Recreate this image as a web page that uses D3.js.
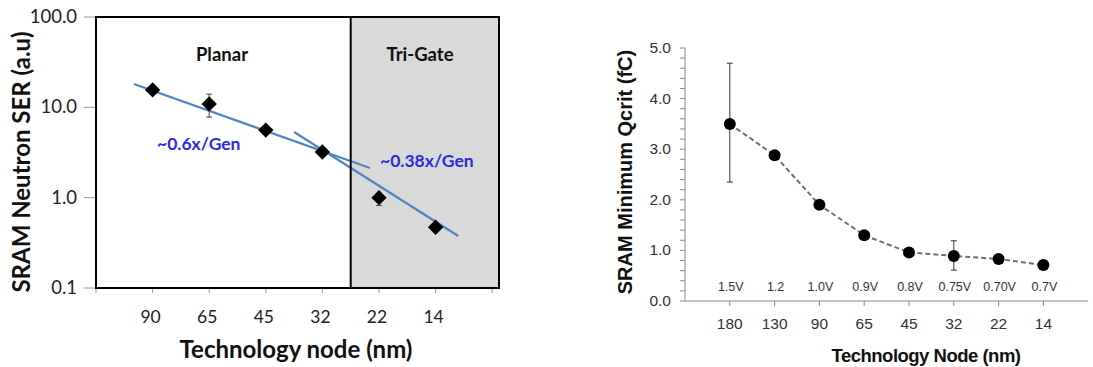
<!DOCTYPE html>
<html>
<head>
<meta charset="utf-8">
<script src="https://cdn.jsdelivr.net/npm/d3@7"></script>
<style>
  body { margin: 0; background: #fff; }
  svg { display: block; }
</style>
</head>
<body>
<div id="chart"></div>
<script>
// left chart: neutron SER vs node (log scale)
const serNodes = ['90', '65', '45', '32', '22', '14'];
const serValues = [15.6, 10.9, 5.6, 3.2, 1.0, 0.47];
const serErrHigh = [null, 14.0, null, null, null, null];
const serErrLow = [null, 7.8, null, null, 0.82, null];
const serTicks = [0.1, 1, 10, 100];
// fit lines, x given in slot index (90 = 1)
const planarFit = [[0.67, 18.1], [4.84, 2.13]];
const trigateFit = [[3.5, 5.33], [6.4, 0.376]];

// right chart: Qcrit vs node
const qNodes = ['180', '130', '90', '65', '45', '32', '22', '14'];
const qValues = [3.5, 2.88, 1.9, 1.3, 0.96, 0.89, 0.83, 0.71];
const qErrHigh = [4.7, null, null, null, null, 1.19, null, null];
const qErrLow = [2.35, null, null, null, null, 0.61, null, null];
const qVoltages = ['1.5V', '1.2', '1.0V', '0.9V', '0.8V', '0.75V', '0.70V', '0.7V'];
const qTicks = [0, 1, 2, 3, 4, 5];

const width = 1093, height = 367;
const svg = d3.select('#chart').append('svg')
  .attr('width', width).attr('height', height);

// ---------- left chart ----------
const L = { left: 96, right: 499, top: 17, bottom: 288 };
const calibri = 'Lato, "Open Sans", sans-serif';

const xL = d3.scaleLinear().domain([0, 7.1]).range([L.left, L.left + 7.1 * 56.6]);
const yL = d3.scaleLog().domain([0.1, 100]).range([L.bottom, L.top]);
const divider = xL(4.5);

const left = svg.append('g');
left.append('rect')
  .attr('x', divider).attr('y', L.top)
  .attr('width', L.right - divider).attr('height', L.bottom - L.top)
  .attr('fill', '#d9d9d9');

// y tick marks + labels
left.append('g').selectAll('line').data(serTicks).join('line')
  .attr('x1', L.left - 12).attr('x2', L.left)
  .attr('y1', d => yL(d)).attr('y2', d => yL(d))
  .attr('stroke', '#999').attr('stroke-width', 1);
left.append('g').selectAll('text').data(serTicks).join('text')
  .attr('x', L.left - 19).attr('y', d => yL(d) + 6)
  .attr('text-anchor', 'end')
  .attr('font-family', calibri).attr('font-size', 18.5).attr('fill', '#222')
  .text(d => d3.format('.1f')(d));

// x ticks below the box
left.append('g').selectAll('line').data(d3.range(0, 8)).join('line')
  .attr('x1', d => xL(d)).attr('x2', d => xL(d))
  .attr('y1', L.bottom).attr('y2', L.bottom + 5)
  .attr('stroke', '#999');
left.append('g').selectAll('text').data(serNodes).join('text')
  .attr('x', (d, i) => xL(i + 1) - 2).attr('y', 323)
  .attr('text-anchor', 'middle')
  .attr('font-family', calibri).attr('font-size', 17.5).attr('fill', '#222')
  .text(d => d);

// fit lines
const lineL = d3.line().x(d => xL(d[0])).y(d => yL(d[1]));
[planarFit, trigateFit].forEach(seg => {
  left.append('path').attr('d', lineL(seg))
    .attr('fill', 'none').attr('stroke', '#4f86c0').attr('stroke-width', 2.2);
});

// error bars
serValues.forEach((v, i) => {
  if (serErrHigh[i] == null && serErrLow[i] == null) return;
  const hi = serErrHigh[i] ?? v, lo = serErrLow[i] ?? v;
  const x = xL(i + 1);
  const g = left.append('g').attr('stroke', '#444').attr('stroke-width', 1);
  g.append('line').attr('x1', x).attr('x2', x).attr('y1', yL(hi)).attr('y2', yL(lo));
  if (serErrHigh[i] != null) g.append('line').attr('x1', x - 3).attr('x2', x + 3).attr('y1', yL(hi)).attr('y2', yL(hi));
  g.append('line').attr('x1', x - 3).attr('x2', x + 3).attr('y1', yL(lo)).attr('y2', yL(lo));
});

// diamond markers
left.append('g').selectAll('path').data(serValues).join('path')
  .attr('d', d3.symbol(d3.symbolDiamond2, 150))
  .attr('transform', (d, i) => `translate(${xL(i + 1)},${yL(d)})`)
  .attr('fill', '#000');

// box
left.append('rect')
  .attr('x', L.left).attr('y', L.top)
  .attr('width', L.right - L.left).attr('height', L.bottom - L.top)
  .attr('fill', 'none').attr('stroke', '#000').attr('stroke-width', 2);
left.append('line')
  .attr('x1', divider).attr('x2', divider).attr('y1', L.top).attr('y2', L.bottom)
  .attr('stroke', '#000').attr('stroke-width', 2);

// region labels
left.append('text').attr('x', 222).attr('y', 61).attr('text-anchor', 'middle')
  .attr('font-family', calibri).attr('font-weight', 'bold').attr('font-size', 18.5)
  .attr('fill', '#111').text('Planar');
left.append('text').attr('x', 420).attr('y', 61).attr('text-anchor', 'middle')
  .attr('font-family', calibri).attr('font-weight', 'bold').attr('font-size', 18.5)
  .attr('fill', '#111').text('Tri-Gate');

// rate annotations
left.append('text').attr('x', 157).attr('y', 150)
  .attr('font-family', calibri).attr('font-weight', 'bold').attr('font-size', 17.5)
  .attr('fill', '#2b2bdc').text('~0.6x/Gen');
left.append('text').attr('x', 380).attr('y', 167)
  .attr('font-family', calibri).attr('font-weight', 'bold').attr('font-size', 17.5)
  .attr('fill', '#2b2bdc').text('~0.38x/Gen');

// axis titles
left.append('text').attr('x', 296).attr('y', 358).attr('text-anchor', 'middle')
  .attr('font-family', calibri).attr('font-weight', 'bold').attr('font-size', 24)
  .attr('fill', '#111').text('Technology node (nm)');
left.append('text')
  .attr('transform', 'translate(30,162) rotate(-90)')
  .attr('text-anchor', 'middle')
  .attr('font-family', calibri).attr('font-weight', 'bold').attr('font-size', 24)
  .attr('fill', '#111').text('SRAM Neutron SER (a.u)');

// ---------- right chart ----------
const arial = '"Liberation Sans", Arial, sans-serif';
const R = { left: 685, top: 48, bottom: 301 };
const xR = d3.scaleLinear().domain([0, 9]).range([R.left, R.left + 9 * 44.8]);
const yR = d3.scaleLinear().domain([0, 5]).range([R.bottom, R.top]);

const right = svg.append('g');

// y axis with minor ticks
right.append('line').attr('x1', R.left).attr('x2', R.left)
  .attr('y1', R.top).attr('y2', R.bottom).attr('stroke', '#888');
right.append('g').selectAll('line').data(d3.range(0, 5.01, 0.2)).join('line')
  .attr('x1', R.left - 5).attr('x2', R.left)
  .attr('y1', d => yR(d)).attr('y2', d => yR(d))
  .attr('stroke', '#888');
right.append('g').selectAll('text').data(qTicks).join('text')
  .attr('x', R.left - 14).attr('y', d => yR(d) + 5)
  .attr('text-anchor', 'end')
  .attr('font-family', arial).attr('font-size', 15.5).attr('fill', '#333')
  .text(d => d3.format('.1f')(d));

// x axis
right.append('line').attr('x1', R.left).attr('x2', xR(9))
  .attr('y1', R.bottom).attr('y2', R.bottom).attr('stroke', '#888');
right.append('g').selectAll('line').data(qNodes).join('line')
  .attr('x1', (d, i) => xR(i + 1)).attr('x2', (d, i) => xR(i + 1))
  .attr('y1', R.bottom).attr('y2', R.bottom + 5)
  .attr('stroke', '#888');
right.append('g').selectAll('text').data(qNodes).join('text')
  .attr('x', (d, i) => xR(i + 1)).attr('y', 329)
  .attr('text-anchor', 'middle')
  .attr('font-family', arial).attr('font-size', 15.5).attr('fill', '#333')
  .text(d => d);

// voltage labels
right.append('g').selectAll('text').data(qVoltages).join('text')
  .attr('x', (d, i) => xR(i + 1) + 1).attr('y', 291)
  .attr('text-anchor', 'middle')
  .attr('font-family', arial).attr('font-size', 12.5).attr('fill', '#333')
  .text(d => d);

// error bars
qValues.forEach((v, i) => {
  if (qErrHigh[i] == null) return;
  const x = xR(i + 1);
  const g = right.append('g').attr('stroke', '#333').attr('stroke-width', 1);
  g.append('line').attr('x1', x).attr('x2', x).attr('y1', yR(qErrHigh[i])).attr('y2', yR(qErrLow[i]));
  [qErrHigh[i], qErrLow[i]].forEach(e => g.append('line')
    .attr('x1', x - 3).attr('x2', x + 3).attr('y1', yR(e)).attr('y2', yR(e)));
});

// dashed line + markers
const lineR = d3.line().x((d, i) => xR(i + 1)).y(d => yR(d));
right.append('path').attr('d', lineR(qValues))
  .attr('fill', 'none').attr('stroke', '#6f6f6f').attr('stroke-width', 2)
  .attr('stroke-dasharray', '5,3');
right.append('g').selectAll('circle').data(qValues).join('circle')
  .attr('cx', (d, i) => xR(i + 1)).attr('cy', d => yR(d))
  .attr('r', 6).attr('fill', '#000');

// axis titles
right.append('text').attr('x', 926).attr('y', 362).attr('text-anchor', 'middle')
  .attr('font-family', arial).attr('font-weight', 'bold').attr('font-size', 18.5)
  .attr('letter-spacing', -0.5)
  .attr('fill', '#111').text('Technology Node (nm)');
right.append('text')
  .attr('transform', 'translate(632,172) rotate(-90)')
  .attr('text-anchor', 'middle')
  .attr('font-family', arial).attr('font-weight', 'bold').attr('font-size', 20)
  .attr('fill', '#111').text('SRAM Minimum  Qcrit  (fC)');
</script>
</body>
</html>
